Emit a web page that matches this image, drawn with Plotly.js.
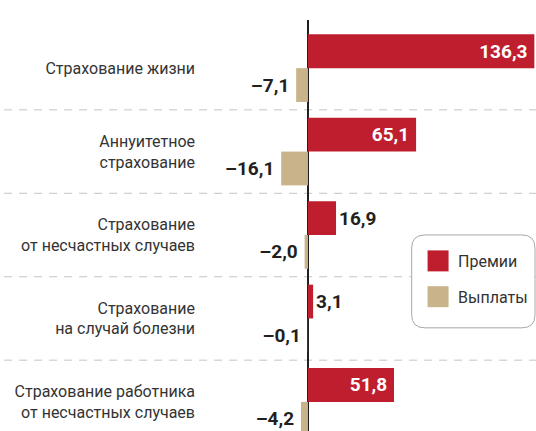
<!DOCTYPE html>
<html>
<head>
<meta charset="utf-8">
<script src="https://cdn.plot.ly/plotly-3.0.1.min.js"></script>
<style>
  html, body { margin: 0; padding: 0; background: #fff; }
  #chart { width: 536px; height: 431px; }
</style>
</head>
<body>
<div id="chart"></div>
<script>
// categories, top to bottom
let categories = [
    'Страхование жизни',
    'Аннуитетное<br>страхование',
    'Страхование<br>от несчастных случаев',
    'Страхование<br>на случай болезни',
    'Страхование работника<br>от несчастных случаев'
];

let premiums = [136.3, 65.1, 16.9, 3.1, 51.8];
let payouts = [-7.1, -16.1, -2.0, -0.1, -4.2];

let seriesNames = ['Премии', 'Выплаты'];

// 136.3 -> "136,3", -7.1 -> "–7,1"
function fmt(v) {
    return v.toFixed(1).replace('.', ',').replace('-', '\u2013') + '\u2009';
}

let trace1 = {
    y: categories,
    x: premiums,
    type: 'bar',
    orientation: 'h',
    name: seriesNames[0],
    legendgroup: 'a',
    marker: { color: '#be1e2d' },
    text: premiums.map(fmt),
    textposition: 'auto',
    textangle: 0,
    constraintext: 'none',
    insidetextanchor: 'end',
    insidetextfont: { family: 'Roboto', size: 19, weight: 700, color: '#ffffff' },
    outsidetextfont: { family: 'Roboto', size: 19, weight: 700, color: '#231f20' },
    cliponaxis: false,
    hoverinfo: 'none'
};

let trace2 = {
    y: categories,
    x: payouts,
    type: 'bar',
    orientation: 'h',
    name: seriesNames[1],
    legendgroup: 'b',
    marker: { color: '#c8b38a' },
    text: payouts.map(fmt),
    textposition: 'outside',
    textangle: 0,
    constraintext: 'none',
    outsidetextfont: { family: 'Roboto', size: 19, weight: 700, color: '#231f20' },
    cliponaxis: false,
    hoverinfo: 'none'
};

// dashed separators between the groups
let separators = [];
for (let i = 0; i < categories.length - 1; i++) {
    separators.push({
        type: 'line',
        xref: 'paper', yref: 'y',
        x0: -0.583, x1: 1,
        y0: i + 0.5, y1: i + 0.5,
        line: { color: '#c4c4c4', width: 1, dash: '8px,7px' },
        layer: 'below'
    });
}

// rounded box behind the legend
let bx0 = 0.630, bx1 = 0.997, by0 = 0.251, by1 = 0.477, rx = 0.039, ry = 0.032;
let legendBox = {
    type: 'path',
    xref: 'paper', yref: 'paper',
    path: 'M' + (bx0 + rx) + ',' + by1 +
        ' L' + (bx1 - rx) + ',' + by1 +
        ' Q' + bx1 + ',' + by1 + ' ' + bx1 + ',' + (by1 - ry) +
        ' L' + bx1 + ',' + (by0 + ry) +
        ' Q' + bx1 + ',' + by0 + ' ' + (bx1 - rx) + ',' + by0 +
        ' L' + (bx0 + rx) + ',' + by0 +
        ' Q' + bx0 + ',' + by0 + ' ' + bx0 + ',' + (by0 + ry) +
        ' L' + bx0 + ',' + (by1 - ry) +
        ' Q' + bx0 + ',' + by1 + ' ' + (bx0 + rx) + ',' + by1 + ' Z',
    fillcolor: '#ffffff',
    line: { color: '#a8a8a8', width: 1 },
    layer: 'above'
};

let layout = {
    width: 536,
    height: 431,
    margin: { l: 200, r: 0, t: 20, b: 0 },
    paper_bgcolor: '#ffffff',
    plot_bgcolor: 'rgba(0,0,0,0)',
    font: { family: 'Roboto', color: '#333333' },
    barmode: 'group',
    bargap: 0.19,
    bargroupgap: 0,
    showlegend: true,
    legend: {
        x: 0.649, xanchor: 'left',
        y: 0.455, yanchor: 'top',
        bgcolor: 'rgba(0,0,0,0)',
        borderwidth: 0,
        font: { family: 'Roboto', size: 16, color: '#333333' },
        tracegroupgap: 12,
        traceorder: 'grouped'
    },
    xaxis: {
        range: [-65, 137.3],
        showgrid: false,
        showticklabels: false,
        zeroline: true,
        zerolinecolor: '#231f20',
        zerolinewidth: 1.5,
        fixedrange: true
    },
    yaxis: {
        type: 'category',
        range: [4.349, -0.577],
        showgrid: false,
        zeroline: false,
        ticks: '',
        ticklabelstandoff: 4,
        tickfont: { family: 'Roboto', size: 16, color: '#333333' },
        fixedrange: true
    },
    shapes: separators.concat([legendBox])
};

Plotly.newPlot('chart', [trace1, trace2], layout, { displayModeBar: false, staticPlot: true })
    .then(function () {
        // bigger legend swatches, as in the original
        document.querySelectorAll('#chart .legend .legendpoints path').forEach(function (p) {
            p.setAttribute('d', 'M10.5,10.5H-10.5V-10.5H10.5Z');
        });
    });
</script>
</body>
</html>
